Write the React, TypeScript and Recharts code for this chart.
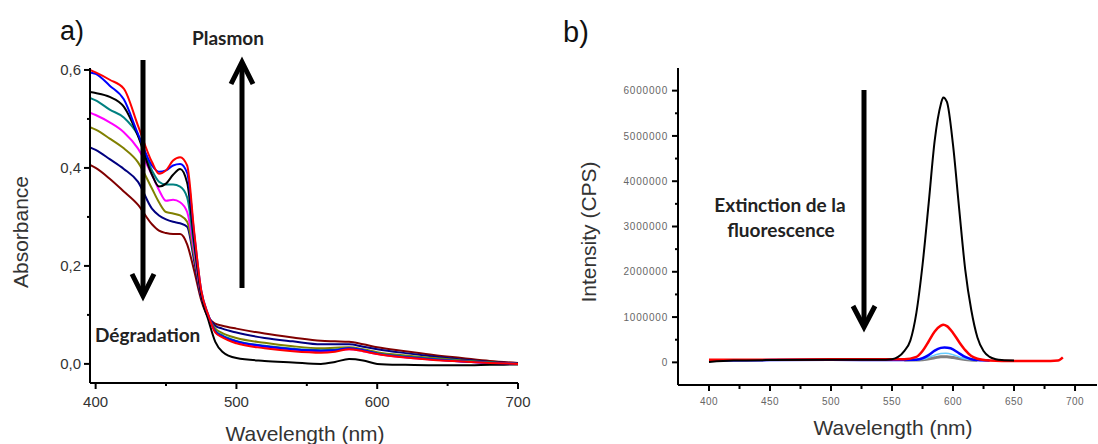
import React from 'react';
import { LineChart, Line, XAxis, YAxis } from 'recharts';

// a) absorbance spectra
const absNm = [396, 400, 410, 420, 430, 440, 445, 450, 455, 460, 465, 470, 475, 480, 485, 490, 500, 520, 540, 560, 570, 580, 590, 600, 620, 640, 660, 680, 700];
const absRed = [0.6, 0.595, 0.58, 0.562, 0.487, 0.412, 0.388, 0.395, 0.415, 0.422, 0.405, 0.27, 0.15, 0.1, 0.064, 0.054, 0.042, 0.032, 0.026, 0.023, 0.025, 0.03, 0.026, 0.02, 0.013, 0.008, 0.005, 0.002, 0];
const absBlue = [0.595, 0.592, 0.568, 0.54, 0.47, 0.405, 0.392, 0.395, 0.405, 0.408, 0.39, 0.265, 0.15, 0.1, 0.066, 0.056, 0.046, 0.036, 0.03, 0.027, 0.028, 0.032, 0.028, 0.021, 0.014, 0.009, 0.005, 0.002, 0];
const absBlack = [0.555, 0.553, 0.545, 0.525, 0.466, 0.386, 0.362, 0.368, 0.386, 0.398, 0.37, 0.25, 0.14, 0.09, 0.045, 0.025, 0.012, 0.006, 0.003, 0, 0.004, 0.01, 0.007, 0, -0.002, -0.003, -0.003, -0.002, -0.001];
const absTeal = [0.543, 0.538, 0.519, 0.503, 0.467, 0.395, 0.372, 0.366, 0.366, 0.362, 0.34, 0.24, 0.145, 0.097, 0.068, 0.058, 0.047, 0.037, 0.031, 0.028, 0.029, 0.032, 0.028, 0.022, 0.015, 0.01, 0.006, 0.003, 0];
const absMagenta = [0.513, 0.508, 0.493, 0.473, 0.44, 0.386, 0.355, 0.333, 0.335, 0.33, 0.31, 0.23, 0.14, 0.096, 0.066, 0.056, 0.044, 0.034, 0.028, 0.025, 0.027, 0.03, 0.026, 0.02, 0.013, 0.009, 0.005, 0.002, 0];
const absOlive = [0.483, 0.478, 0.46, 0.44, 0.412, 0.358, 0.33, 0.31, 0.307, 0.303, 0.29, 0.22, 0.14, 0.097, 0.072, 0.063, 0.053, 0.043, 0.036, 0.032, 0.033, 0.034, 0.03, 0.024, 0.017, 0.012, 0.007, 0.003, 0];
const absNavy = [0.442, 0.437, 0.418, 0.398, 0.372, 0.317, 0.303, 0.295, 0.29, 0.287, 0.28, 0.21, 0.135, 0.098, 0.078, 0.072, 0.064, 0.053, 0.046, 0.04, 0.04, 0.04, 0.035, 0.03, 0.022, 0.015, 0.009, 0.004, 0.001];
const absMaroon = [0.406, 0.4, 0.378, 0.352, 0.325, 0.285, 0.272, 0.267, 0.265, 0.265, 0.244, 0.19, 0.13, 0.095, 0.082, 0.078, 0.072, 0.062, 0.054, 0.047, 0.046, 0.045, 0.04, 0.034, 0.026, 0.018, 0.012, 0.006, 0.002];

const absSeries = [
  { key: 'maroon', color: '#800000', values: absMaroon },
  { key: 'navy', color: '#000080', values: absNavy },
  { key: 'olive', color: '#808000', values: absOlive },
  { key: 'magenta', color: '#ff00ff', values: absMagenta },
  { key: 'teal', color: '#008080', values: absTeal },
  { key: 'black', color: '#000000', values: absBlack },
  { key: 'blue', color: '#0000ff', values: absBlue },
  { key: 'red', color: '#ff0000', values: absRed },
];
const absXTicks = [400, 450, 500, 550, 600, 650, 700];
const absYTicks = [0, 0.1, 0.2, 0.3, 0.4, 0.5, 0.6];

// b) fluorescence spectra
const flBlackNm = [400, 420, 450, 500, 540, 550, 555, 560, 565, 570, 575, 580, 585, 590, 592, 595, 600, 605, 610, 615, 620, 625, 630, 635, 640, 650];
const flBlack = [10000, 40000, 50000, 55000, 55000, 70000, 120000, 250000, 480000, 1100000, 2150000, 3500000, 4900000, 5700000, 5850000, 5750000, 4800000, 3400000, 2050000, 1150000, 550000, 250000, 120000, 70000, 50000, 40000];
const flRedNm = [400, 450, 500, 550, 560, 570, 575, 580, 585, 590, 592, 595, 600, 605, 610, 615, 620, 630, 640, 660, 680, 686, 690];
const flRed = [60000, 60000, 70000, 70000, 70000, 120000, 250000, 460000, 680000, 810000, 830000, 800000, 650000, 450000, 270000, 140000, 80000, 40000, 30000, 30000, 30000, 40000, 110000];
const flBlueNm = [400, 450, 500, 550, 570, 575, 580, 585, 590, 593, 598, 605, 610, 615, 620, 630];
const flBlue = [40000, 50000, 55000, 50000, 60000, 90000, 160000, 260000, 320000, 330000, 310000, 200000, 120000, 70000, 50000, 40000];
const flCyanNm = [560, 575, 580, 585, 590, 594, 600, 605, 610, 620];
const flCyan = [50000, 70000, 110000, 160000, 195000, 200000, 170000, 120000, 80000, 50000];
const flGrayNm = [560, 575, 585, 590, 595, 600, 610, 620];
const flGray = [50000, 60000, 100000, 125000, 125000, 105000, 65000, 45000];

const flSeries = [
  { key: 'gray', color: '#808080', nm: flGrayNm, values: flGray, width: 3 },
  { key: 'cyan', color: '#66ccff', nm: flCyanNm, values: flCyan, width: 1.5 },
  { key: 'blue', color: '#0000ff', nm: flBlueNm, values: flBlue, width: 2.5 },
  { key: 'red', color: '#ff0000', nm: flRedNm, values: flRed, width: 2.5 },
  { key: 'black', color: '#000000', nm: flBlackNm, values: flBlack, width: 2 },
];
const flXTicks = [400, 425, 450, 475, 500, 525, 550, 575, 600, 625, 650, 675, 700];
const flYTicks = [0, 500000, 1000000, 1500000, 2000000, 2500000, 3000000, 3500000, 4000000, 4500000, 5000000, 5500000, 6000000];

const absData = absNm.map((nm, i) => {
  const row: Record<string, number> = { nm };
  absSeries.forEach(s => { row[s.key] = s.values[i]; });
  return row;
});

const sans = '"Liberation Sans", Arial, sans-serif';
const bold = 'Lato, "Open Sans", sans-serif';

const absYTick = (props: any) => {
  const { x, y, payload } = props;
  const major = Math.round(payload.value * 10) % 2 === 0;
  return (
    <g>
      <line x1={x} x2={x - (major ? 6 : 3)} y1={y} y2={y} stroke="#000" strokeWidth={2} />
      {major && (
        <text x={x - 9} y={y} dy="0.36em" textAnchor="end" fontSize={15} fill="#333" fontFamily={sans}>
          {payload.value.toFixed(1).replace('.', ',')}
        </text>
      )}
    </g>
  );
};

const absXTick = (props: any) => {
  const { x, y, payload } = props;
  const major = payload.value % 100 === 0;
  return (
    <g>
      <line x1={x} x2={x} y1={y} y2={y + (major ? 6 : 3)} stroke="#000" strokeWidth={2} />
      {major && (
        <text x={x} y={y + 19} dy="0.36em" textAnchor="middle" fontSize={15} fill="#333" fontFamily={sans}>
          {payload.value}
        </text>
      )}
    </g>
  );
};

const flYTick = (props: any) => {
  const { x, y, payload } = props;
  const major = payload.value % 1000000 === 0;
  return (
    <g>
      <line x1={x} x2={x - (major ? 6 : 3)} y1={y} y2={y} stroke="#000" strokeWidth={2} />
      {major && (
        <text x={x - 10} y={y} dy="0.36em" textAnchor="end" fontSize={10} letterSpacing={0.8} fill="#666" fontFamily={sans}>
          {payload.value}
        </text>
      )}
    </g>
  );
};

const flXTick = (props: any) => {
  const { x, y, payload } = props;
  const major = payload.value % 50 === 0;
  return (
    <g>
      <line x1={x} x2={x} y1={y} y2={y + (major ? 6 : 4)} stroke="#000" strokeWidth={2} />
      {major && (
        <text x={x} y={y + 16} dy="0.36em" textAnchor="middle" fontSize={10} letterSpacing={0.5} fill="#666" fontFamily={sans}>
          {payload.value}
        </text>
      )}
    </g>
  );
};

const axisLine = { stroke: '#000', strokeWidth: 2 };

export default function App() {
  return (
    <div style={{ position: 'absolute', left: 0, top: 0, width: 1098, height: 444, background: '#fff' }}>
      <div style={{ position: 'absolute', left: 0, top: 0 }}>
        <LineChart width={560} height={444} data={absData} margin={{ top: 68, right: 42, bottom: 21, left: 40 }}>
          <XAxis type="number" dataKey="nm" domain={[396, 700]} ticks={absXTicks} interval={0} height={40}
            tickSize={0} tickMargin={0} tick={absXTick} axisLine={axisLine} allowDataOverflow />
          <YAxis type="number" domain={[-0.039, 0.604]} ticks={absYTicks} interval={0} width={50}
            tickSize={0} tickMargin={0} tick={absYTick} axisLine={axisLine} allowDataOverflow />
          {absSeries.map(s => (
            <Line key={s.key} dataKey={s.key} type="monotone" stroke={s.color} strokeWidth={2}
              dot={false} isAnimationActive={false} />
          ))}
        </LineChart>
      </div>
      <div style={{ position: 'absolute', left: 560, top: 0 }}>
        <LineChart width={538} height={444} margin={{ top: 68, right: 1, bottom: 19, left: 48 }}>
          <XAxis type="number" dataKey="nm" domain={[374.6, 718]} ticks={flXTicks} interval={0} height={40}
            tickSize={0} tickMargin={0} tick={flXTick} axisLine={axisLine} allowDataOverflow />
          <YAxis type="number" domain={[-500000, 6500000]} ticks={flYTicks} interval={0} width={70}
            tickSize={0} tickMargin={0} tick={flYTick} axisLine={axisLine} allowDataOverflow />
          {flSeries.map(s => (
            <Line key={s.key} data={s.nm.map((nm, i) => ({ nm, v: s.values[i] }))} dataKey="v" type="monotone"
              stroke={s.color} strokeWidth={s.width} dot={false} isAnimationActive={false} />
          ))}
        </LineChart>
      </div>
      <svg width={1098} height={444} style={{ position: 'absolute', left: 0, top: 0, pointerEvents: 'none' }}>
        <text x={60} y={40} fontSize={27} fill="#111" fontFamily={sans}>a)</text>
        <text x={563} y={42} fontSize={29} fill="#111" fontFamily={sans}>b)</text>
        <text x={192} y={45} fontSize={19} fontWeight={700} fill="#222" fontFamily={bold}>Plasmon</text>
        <text x={95} y={342} fontSize={19} fontWeight={700} fill="#222" fontFamily={bold}>Dégradation</text>
        <text x={780} y={212} fontSize={19} fontWeight={700} fill="#222" fontFamily={bold} textAnchor="middle">Extinction de la</text>
        <text x={781} y={237} fontSize={19} fontWeight={700} fill="#222" fontFamily={bold} textAnchor="middle">fluorescence</text>
        <text x={0} y={0} transform="translate(28,232) rotate(-90)" fontSize={21} fill="#333" fontFamily={sans} textAnchor="middle">Absorbance</text>
        <text x={305} y={441} fontSize={21} fill="#333" fontFamily={sans} textAnchor="middle">Wavelength (nm)</text>
        <text x={0} y={0} transform="translate(596,232) rotate(-90)" fontSize={21} fill="#333" fontFamily={sans} textAnchor="middle">Intensity (CPS)</text>
        <text x={893} y={435} fontSize={21} fill="#333" fontFamily={sans} textAnchor="middle">Wavelength (nm)</text>
        <g stroke="#000" strokeWidth={5} fill="none">
          <line x1={143} y1={60} x2={143} y2={294} />
          <polyline points="132,274 143,296 154,274" />
          <line x1={242} y1={288} x2={242} y2={64} />
          <polyline points="231,84 242,62 253,84" />
          <line x1={864} y1={90} x2={864} y2={324} />
          <polyline points="853,306 864,327 875,306" />
        </g>
      </svg>
    </div>
  );
}
